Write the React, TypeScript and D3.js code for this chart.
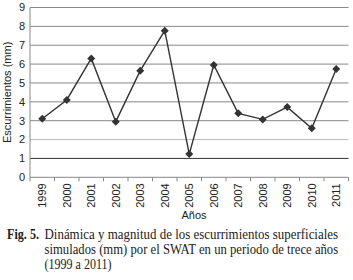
import React, { useLayoutEffect, useRef, useState } from "react";
import * as d3 from "d3";

const years = ["1999","2000","2001","2002","2003","2004","2005","2006","2007","2008","2009","2010","2011"];
const runoff = [3.1, 4.1, 6.3, 2.95, 5.65, 7.77, 1.23, 5.95, 3.39, 3.07, 3.72, 2.6, 5.74];
const yTicks = [0,1,2,3,4,5,6,7,8,9];
const gridColors: Record<number,string> = {1:"#333", 2:"#bbb"};
const captionLabel = "Fig. 5.";
const captionLines = [
  "Dinámica y magnitud de los escurrimientos superficiales",
  "simulados (mm) por el SWAT en un periodo de trece años",
  "(1999 a 2011)",
];

function FitText(props: { x: number; y: number; width?: number; children: string; [k: string]: any }) {
  const { x, y, width, children, ...rest } = props;
  const ref = useRef<SVGTextElement>(null);
  const [s, setS] = useState(0.85);
  useLayoutEffect(() => {
    if (width && ref.current) {
      const w = ref.current.getComputedTextLength();
      if (w > 0) setS(width / w);
    }
  }, [width, children]);
  return (
    <text ref={ref} transform={`translate(${x},${y}) scale(${s},1)`} {...rest}>{children}</text>
  );
}

export default function App() {
  const W = 353, H = 280;
  const left = 30, right = 348.5, top = 7.5, bottom = 177.3;
  const x = d3.scaleBand<string>().domain(years).range([left, right]);
  const y = d3.scaleLinear().domain([0, 9]).range([bottom, top]);
  const line = d3.line<number>().x((_, i) => x(years[i])! + x.bandwidth()/2).y(d => y(d));
  const sans = "Liberation Sans, Arial, sans-serif";
  const serif = "Liberation Serif, Times New Roman, serif";
  const captionWidths = [293.5, 293.5, 67];
  return (
    <svg width={W} height={H} style={{position:"absolute", left:0, top:0, background:"#fff"}}>
      {yTicks.filter(t => t > 0).map(t => (
        <line key={t} x1={left} x2={right} y1={y(t)} y2={y(t)} stroke={gridColors[t] ?? "#888"} strokeWidth={1} />
      ))}
      <line x1={left} x2={left} y1={top} y2={bottom} stroke="#888" />
      <line x1={left} x2={right} y1={bottom} y2={bottom} stroke="#888" />
      {years.map((yr) => (
        <line key={"t"+yr} x1={x(yr)!} x2={x(yr)!} y1={bottom} y2={bottom+4} stroke="#888" />
      ))}
      <line x1={right} x2={right} y1={bottom} y2={bottom+4} stroke="#888" />
      {yTicks.map(t => (
        <text key={"yl"+t} x={left-5} y={y(t)} dy="0.35em" textAnchor="end" fontFamily={sans} fontSize={11} fill="#222">{t}</text>
      ))}
      {years.map(yr => (
        <text key={"xl"+yr} transform={`translate(${x(yr)! + x.bandwidth()/2},${bottom+6}) rotate(-90)`} dy="0.35em" textAnchor="end" fontFamily={sans} fontSize={11} fill="#222">{yr}</text>
      ))}
      <text transform={`translate(11,${(top+bottom)/2}) rotate(-90)`} textAnchor="middle" fontFamily={sans} fontSize={11} fill="#222">Escurrimientos (mm)</text>
      <text x={194} y={219} textAnchor="middle" fontFamily={sans} fontSize={11} fill="#222">Años</text>
      <path d={line(runoff) ?? ""} fill="none" stroke="#333" strokeWidth={1.4} />
      {runoff.map((v, i) => {
        const cx = x(years[i])! + x.bandwidth()/2, cy = y(v);
        return <path key={"m"+i} d={`M${cx},${cy-4}L${cx+4},${cy}L${cx},${cy+4}L${cx-4},${cy}Z`} fill="#333" />;
      })}
      <FitText x={7} y={239} width={32} fontFamily={serif} fontSize={14} fontWeight="bold" fill="#222">{captionLabel}</FitText>
      {captionLines.map((l, i) => (
        <FitText key={"c"+i} x={44.5} y={239 + i*15} width={captionWidths[i]} fontFamily={serif} fontSize={14} fill="#222">{l}</FitText>
      ))}
    </svg>
  );
}
